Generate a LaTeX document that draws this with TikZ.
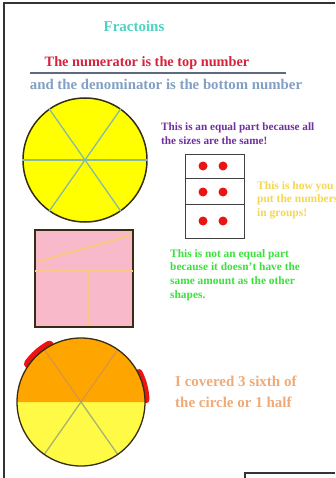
\documentclass[tikz,border=0pt]{standalone}
\usepackage{fontspec}
\setmainfont{Liberation Serif}
\definecolor{cteal}{RGB}{80,210,195}
\definecolor{ctitle}{RGB}{215,35,60}
\definecolor{crule}{RGB}{95,105,130}
\definecolor{cblue}{RGB}{130,160,195}
\definecolor{cpurple}{RGB}{112,48,160}
\definecolor{cytext}{RGB}{245,215,80}
\definecolor{cgreen}{RGB}{60,225,60}
\definecolor{cotext}{RGB}{240,170,120}
\definecolor{cpink}{RGB}{248,186,202}
\definecolor{cpinkline}{RGB}{250,200,130}
\definecolor{cyellow}{RGB}{255,255,0}
\definecolor{clyellow}{RGB}{255,250,70}
\definecolor{corange}{RGB}{255,165,0}
\definecolor{cred}{RGB}{235,20,20}
\definecolor{cline}{RGB}{135,185,165}
\definecolor{cline2}{RGB}{165,180,115}
\definecolor{cline3}{RGB}{215,150,70}
\definecolor{cedge}{RGB}{55,45,20}
\begin{document}
\begin{tikzpicture}[x=1pt,y=-1pt,
  txt/.style={inner sep=0pt,font=\bfseries},
  dot/.style={circle,fill=cred,inner sep=0pt,minimum size=9pt},
  frameline/.style={draw=black!80,line width=1.4pt}]
\useasboundingbox (0,0) rectangle (335,478);
\fill[white] (0,0) rectangle (335,478);
% frame
\coordinate (f1) at (4,478);
\coordinate (f2) at (4,3);
\coordinate (f3) at (335,3);
\draw[frameline] (f1) -- (f2) -- (f3);
\coordinate (b1) at (245,478);
\coordinate (b2) at (245,473);
\coordinate (b3) at (335,473);
\draw[frameline] (b1) -- (b2) -- (b3);
% titles
\node[txt,text=cteal,font=\bfseries\fontsize{15}{17}\selectfont] (title) at (134,26) {Fractoins};
\node[txt,text=ctitle,font=\bfseries\fontsize{14.3}{16}\selectfont] (num) at (147,63) {The numerator is the top number};
\coordinate (r1) at (30,73);
\coordinate (r2) at (286,73);
\draw[crule,line width=1.2pt] (r1) -- (r2);
\node[txt,text=cblue,font=\bfseries\fontsize{14.8}{16}\selectfont] (den) at (166,84) {and the denominator is the bottom number};
% circle 1
\node[circle,draw=cedge,line width=1.5pt,fill=cyellow,minimum size=124pt,inner sep=0pt] (c1) at (85,160) {};
\draw[cline,line width=1.3pt] (c1.west) -- (c1.east);
\draw[cline,line width=1.3pt] (c1.55) -- (c1.235);
\draw[cline,line width=1.3pt] (c1.125) -- (c1.305);
% purple text
\node[txt,text=cpurple,anchor=north west,align=left,font=\bfseries\fontsize{11.2}{13.5}\selectfont] (eq) at (161,123) {This is an equal part because all\\the sizes are the same!};
% grid box
\node[draw=black!75,line width=1pt,minimum width=59pt,minimum height=83pt,inner sep=0pt] (grid) at (214.5,196.5) {};
\coordinate (g1l) at (185,179);
\coordinate (g1r) at (244,179);
\coordinate (g2l) at (185,204);
\coordinate (g2r) at (244,204);
\draw[black!75,line width=1pt] (g1l) -- (g1r);
\draw[black!75,line width=1pt] (g2l) -- (g2r);
\node[dot] (d1) at (203,166) {};
\node[dot] (d2) at (223,166) {};
\node[dot] (d3) at (203,192) {};
\node[dot] (d4) at (223,192) {};
\node[dot] (d5) at (203,221) {};
\node[dot] (d6) at (223,221) {};
% yellow text (clipped by the right edge, as in the reference)
\node[txt,text=cytext,anchor=north west,align=left,font=\bfseries\fontsize{11.5}{13.5}\selectfont] (grp) at (257,181) {This is how you\\put the numbers\\in groups!};
% pink square
\node[draw=cedge,line width=1.5pt,fill=cpink,minimum width=98pt,minimum height=97pt,inner sep=0pt] (sq) at (84,278.5) {};
\coordinate (p1) at (37,262);
\coordinate (p2) at (131,235);
\coordinate (p3) at (35,271);
\coordinate (p4) at (133,271);
\coordinate (p5) at (88,271);
\coordinate (p6) at (88,326);
\draw[cpinkline,line width=2pt] (p1) -- (p2);
\draw[cpinkline,line width=2pt] (p3) -- (p4);
\draw[cpinkline,line width=2pt] (p5) -- (p6);
% green text
\node[txt,text=cgreen,anchor=north west,align=left,font=\bfseries\fontsize{11.4}{13.7}\selectfont] (neq) at (170,249) {This is not an equal part\\because it doesn't have the\\same amount as the other\\shapes.};
% bottom circle
\coordinate (c2) at (81,402);
\draw[cred,line width=9pt,line cap=round] ([shift={(241:65)}]c2) arc[start angle=241,end angle=216,radius=65];
\draw[cred,line width=7pt,line cap=round] ([shift={(333:65)}]c2) arc[start angle=333,end angle=358,radius=65];
\fill[clyellow] ([shift={(-64,0)}]c2) arc[start angle=180,end angle=0,radius=64] -- cycle;
\fill[corange] ([shift={(-64,0)}]c2) arc[start angle=180,end angle=360,radius=64] -- cycle;
\draw[cline2,line width=1.3pt] (c2) -- ([shift={(55:64)}]c2);
\draw[cline2,line width=1.3pt] (c2) -- ([shift={(125:64)}]c2);
\draw[cline3,line width=1.2pt] (c2) -- ([shift={(235:64)}]c2);
\draw[cline3,line width=1.2pt] (c2) -- ([shift={(305:64)}]c2);
\node[circle,draw=cedge,line width=1.3pt,minimum size=128pt,inner sep=0pt] (c2o) at (c2) {};
% orange text
\node[txt,text=cotext,anchor=north west,align=left,font=\bfseries\fontsize{15}{21}\selectfont] (cov) at (175,376) {I covered 3 sixth of\\the circle or 1 half};
\end{tikzpicture}
\end{document}
